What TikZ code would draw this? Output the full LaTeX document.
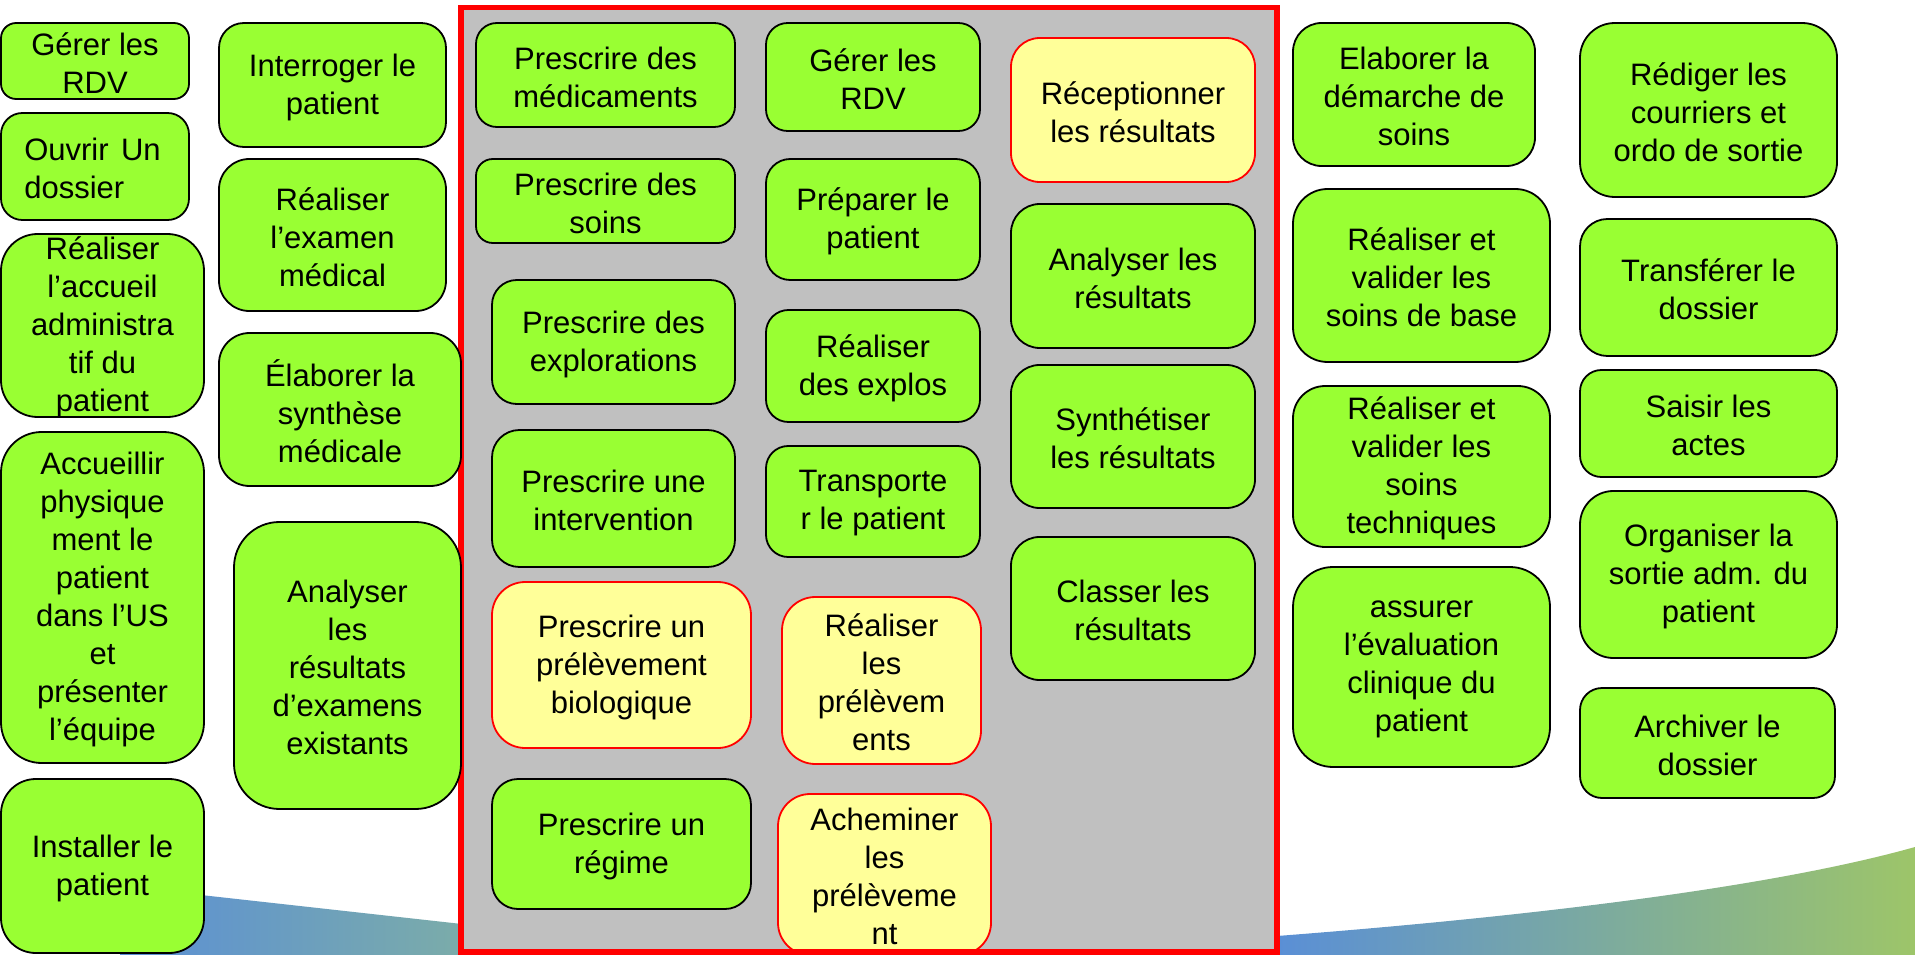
\documentclass[tikz,border=0pt]{standalone}
\usepackage{fontspec}
\setmainfont{Liberation Sans}
\definecolor{boxgreen}{HTML}{99FF33}
\definecolor{boxyellow}{HTML}{FFFF99}
\definecolor{framegray}{HTML}{C0C0C0}
\definecolor{swblue}{HTML}{5A8FD6}
\definecolor{swteal}{HTML}{7BACA9}
\definecolor{swmid}{HTML}{8CB890}
\definecolor{swgreen}{HTML}{9DC569}
\tikzset{
  greenbox/.style={draw=black, fill=boxgreen, line width=1.8pt},
  yellowbox/.style={draw=red, fill=boxyellow, line width=1.8pt},
  boxtext/.style={font=\fontsize{31}{38}\selectfont, align=center, inner sep=0pt, text=black},
  frameline/.style={draw=red, line width=5.5pt},
}
\newcommand\bx[7]{%
  \pgfmathsetmacro\bxw{#4-#2}%
  \pgfmathsetmacro\bxh{#5-#3}%
  \pgfmathsetmacro\bxr{0.2*min(\bxw,\bxh)}%
  \node[#6, minimum width=\bxw pt, minimum height=\bxh pt, inner sep=0pt, rounded corners=\bxr pt] (#1) at ({(#2+#4)/2},{(#3+#5)/2}) {};%
  \node[boxtext] (#1-t) at ([yshift=-2pt]#1.center) {#7};%
}
\begin{document}
\begin{tikzpicture}[x=1pt,y=-1pt]
\useasboundingbox (0,0) rectangle (1915,955);
% background swooshes
\shade[left color=swblue, right color=swteal] (120,886) -- (462,924) -- (462,955) -- (120,955) -- cycle;
\shade[left color=swblue, middle color=swmid, right color=swgreen] (1277,936) .. controls (1550,915) and (1780,885) .. (1915,847) -- (1915,955) -- (1277,955) -- cycle;
% gray frame
\fill[framegray] (461,7.5) rectangle (1277,952);
% middle column A
\bx{c1}{476}{23}{735}{127}{greenbox}{Prescrire des\\médicaments}
\bx{c2}{476}{159}{735}{243}{greenbox}{Prescrire des\\soins}
\bx{c3}{492}{280}{735}{404}{greenbox}{Prescrire des\\explorations}
\bx{c4}{492}{430}{735}{567}{greenbox}{Prescrire une\\intervention}
\bx{c5}{492}{582}{751}{748}{yellowbox}{Prescrire un\\prélèvement\\biologique}
\bx{c6}{492}{779}{751}{909}{greenbox}{Prescrire un\\régime}
% middle column B
\bx{d1}{766}{23}{980}{131}{greenbox}{Gérer les\\RDV}
\bx{d2}{766}{159}{980}{280}{greenbox}{Préparer le\\patient}
\bx{d3}{766}{310}{980}{422}{greenbox}{Réaliser\\des explos}
\bx{d4}{766}{446}{980}{557}{greenbox}{Transporte\\r le patient}
\bx{d5}{782}{597}{981}{764}{yellowbox}{Réaliser\\les\\prélèvem\\ents}
\bx{d6}{778}{794}{991}{955}{yellowbox}{Acheminer\\les\\prélèveme\\nt}
% middle column C
\bx{e1}{1011}{38}{1255}{182}{yellowbox}{Réceptionner\\les résultats}
\bx{e2}{1011}{204}{1255}{348}{greenbox}{Analyser les\\résultats}
\bx{e3}{1011}{365}{1255}{508}{greenbox}{Synthétiser\\les résultats}
\bx{e4}{1011}{537}{1255}{680}{greenbox}{Classer les\\résultats}
% red frame border
\draw[frameline] (461,7.5) rectangle (1277,952);
% left column 1
\bx{a1}{1}{23}{189}{99}{greenbox}{Gérer les\\RDV}
\bx{a2}{1}{113}{189}{220}{greenbox}{}
\node[boxtext, align=left, anchor=west] (a2-txt) at ([xshift=24pt,yshift=-2pt]a2.west) {Ouvrir\hspace{0.4em}Un\\dossier};
\bx{a3}{1}{234}{204}{417}{greenbox}{Réaliser\\l’accueil\\administra\\tif du\\patient}
\bx{a4}{1}{432}{204}{763}{greenbox}{Accueillir\\physique\\ment le\\patient\\dans l’US\\et\\présenter\\l’équipe}
\bx{a5}{1}{779}{204}{953}{greenbox}{Installer le\\patient}
% left column 2
\bx{b1}{219}{23}{446}{147}{greenbox}{Interroger le\\patient}
\bx{b2}{219}{159}{446}{311}{greenbox}{Réaliser\\l’examen\\médical}
\bx{b3}{219}{333}{461}{486}{greenbox}{Élaborer la\\synthèse\\médicale}
\bx{b4}{234}{522}{461}{809}{greenbox}{Analyser\\les\\résultats\\d’examens\\existants}
% right column 1
\bx{f1}{1293}{23}{1535}{166}{greenbox}{Elaborer la\\démarche de\\soins}
\bx{f2}{1293}{189}{1550}{362}{greenbox}{Réaliser et\\valider les\\soins de base}
\bx{f3}{1293}{386}{1550}{547}{greenbox}{Réaliser et\\valider les\\soins\\techniques}
\bx{f4}{1293}{567}{1550}{767}{greenbox}{assurer\\l’évaluation\\clinique du\\patient}
% right column 2
\bx{g1}{1580}{23}{1837}{197}{greenbox}{Rédiger les\\courriers et\\ordo de sortie}
\bx{g2}{1580}{219}{1837}{356}{greenbox}{Transférer le\\dossier}
\bx{g3}{1580}{370}{1837}{477}{greenbox}{Saisir les\\actes}
\bx{g4}{1580}{491}{1837}{658}{greenbox}{Organiser la\\sortie adm. du\\patient}
\bx{g5}{1580}{688}{1835}{798}{greenbox}{Archiver le\\dossier}
\end{tikzpicture}
\end{document}
